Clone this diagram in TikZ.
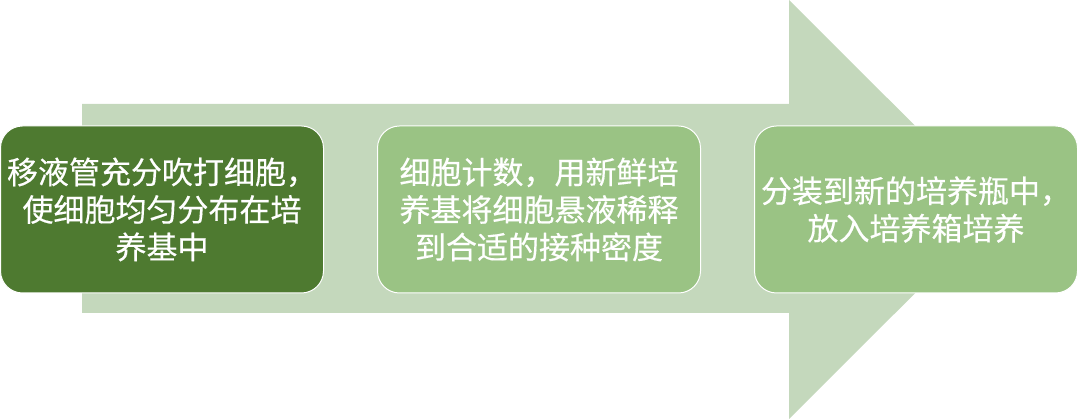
\documentclass[tikz,border=0pt]{standalone}
\usepackage{fontspec}
\newfontfamily\cjk[FakeBold=0.4]{Noto Sans CJK SC}
\usetikzlibrary{positioning}
\definecolor{arrowgreen}{HTML}{C4D8BC}
\definecolor{darkgreen}{HTML}{4E7A30}
\definecolor{lightgreen}{HTML}{9AC384}
\tikzset{
x=1pt, y=1pt, % one unit is one pixel of the picture
node distance=377pt, % distance between the centres of two steps
stepbox/.style={draw=white, line width=1pt, rounded corners=22pt,
  minimum width=323pt, minimum height=167pt, text width=316pt, align=center,
  inner sep=0pt, text=white, font=\cjk\fontsize{31}{37.5}\selectfont}, % sets the properties for each step
}

\begin{document}
\begin{tikzpicture}
            \useasboundingbox (0,0) rectangle (1080,419);
            % the big arrow behind the steps
            \fill[arrowgreen] (82,106) -- (789,106) -- (789,0) -- (999,209.5)
                -- (789,419) -- (789,315) -- (82,315) -- cycle;
            \node[stepbox, fill=darkgreen] (s1) at (162,209.5) {移液管充分吹打细胞，\\使细胞均匀分布在培\\养基中};
            \node[stepbox, fill=lightgreen, right of=s1] (s2) {细胞计数，用新鲜培\\养基将细胞悬液稀释\\到合适的接种密度};
            \node[stepbox, fill=lightgreen, right of=s2] (s3) {分装到新的培养瓶中，\\放入培养箱培养};
            \end{tikzpicture}
\end{document}
